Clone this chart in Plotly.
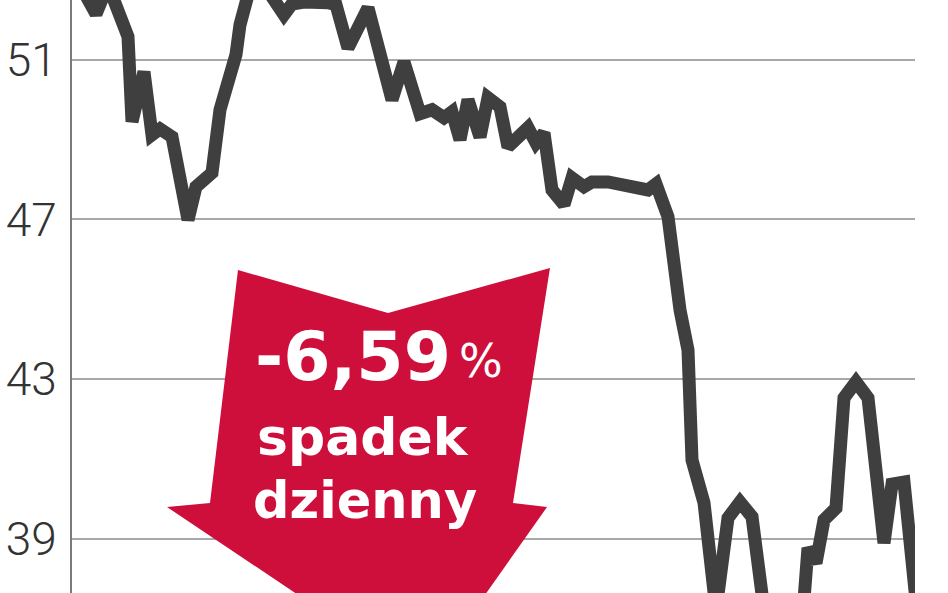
import plotly.graph_objects as go

# Session index (trading days) and closing price
sessions = [2, 6, 9, 12, 14, 15, 18, 20, 22, 25, 29, 31, 35, 37, 41, 42, 45, 48,
            53, 55, 58, 64, 66, 69, 74, 80, 83, 87, 90, 93, 95, 97, 99, 102, 104,
            107, 109, 114, 116, 118, 120, 123, 125, 128, 130, 134, 139, 144, 146,
            149, 152, 154, 155, 158, 161, 164, 167, 170, 173, 178, 183, 184, 186,
            188, 191, 193, 196, 199, 203, 205, 208, 211]
prices = [52.88, 52.15, 52.88, 52.08, 51.58, 49.45, 50.70, 49.12, 49.27, 49.07,
          46.99, 47.82, 48.17, 49.75, 51.13, 51.88, 53.0, 52.88,
          52.13, 52.40, 52.45, 52.43, 52.38, 51.30, 52.30, 50.00, 50.95, 49.65,
          49.75, 49.55, 49.70, 49.00, 50.00, 49.07, 50.05,
          49.82, 48.82, 49.30, 48.92, 49.17, 47.74, 47.37, 48.04, 47.82, 47.94,
          47.94, 47.84, 47.74, 47.89,
          47.07, 44.73, 43.73, 40.97, 39.90, 37.22, 39.52, 39.92, 39.55, 37.22,
          36.71, 37.47, 38.77, 38.39,
          39.47, 39.77, 42.53, 42.93, 42.53, 38.89, 40.37, 40.42, 37.45]

tick_values = [39, 43, 47, 51]
tick_labels = ["39", "43", "47", "51"]

change_label = "-6,59"
pct_sign = "%"
caption_1 = "spadek"
caption_2 = "dzienny"

W, H = 948, 593
L, R, T, B = 72, 33, 0, 0
PW, PH = W - L - R, H - T - B


def px(x):
    return (x - L) / PW


def py(y):
    return 1 - (y - T) / PH


fig = go.Figure()
fig.add_trace(go.Scatter(
    x=sessions, y=prices, mode="lines",
    line=dict(color="#3f3f3f", width=13),
    hoverinfo="skip", showlegend=False,
))

# red arrow (decoration, paper coordinates)
arrow_pts = [(238, 270), (388, 313), (550, 268), (513, 503), (547, 507),
             (425, 680), (167, 507), (210, 503)]
path = "M " + " L ".join(f"{px(a):.4f},{py(b):.4f}" for a, b in arrow_pts) + " Z"
fig.add_shape(type="path", path=path, xref="paper", yref="paper",
              fillcolor="#cf0f3b", line=dict(width=0), layer="above")

fig.add_annotation(x=px(353), y=py(356), xref="paper", yref="paper",
                   text="<b>" + change_label + "</b>", showarrow=False,
                   font=dict(family="DejaVu Sans", size=68, color="white"),
                   xanchor="center", yanchor="middle")
fig.add_annotation(x=px(481), y=py(361), xref="paper", yref="paper",
                   text=pct_sign, showarrow=False,
                   font=dict(family="DejaVu Sans", size=46, color="white"),
                   xanchor="center", yanchor="middle")
fig.add_annotation(x=px(363), y=py(437), xref="paper", yref="paper",
                   text="<b>" + caption_1 + "</b>", showarrow=False,
                   font=dict(family="DejaVu Sans", size=52, color="white"),
                   xanchor="center", yanchor="middle")
fig.add_annotation(x=px(365), y=py(500), xref="paper", yref="paper",
                   text="<b>" + caption_2 + "</b>", showarrow=False,
                   font=dict(family="DejaVu Sans", size=51, color="white"),
                   xanchor="center", yanchor="middle")

fig.update_layout(
    width=W, height=H,
    margin=dict(l=L, r=R, t=T, b=B, pad=0),
    paper_bgcolor="white", plot_bgcolor="white",
    xaxis=dict(range=[0, 210.75], visible=False, fixedrange=True),
    yaxis=dict(
        range=[37.64, 52.5],
        tickvals=tick_values, ticktext=tick_labels,
        showgrid=True, gridcolor="#a8a8a8", gridwidth=2,
        showline=True, linecolor="#7a7a7a", linewidth=2,
        zeroline=False, ticks="",
        ticklabelstandoff=4,
        automargin=False, fixedrange=True,
        tickfont=dict(family="Roboto", size=46, color="#333333", weight=300),
    ),
)

fig.write_html("out.html",
               config={"displayModeBar": False, "staticPlot": True},
               post_script="document.body.style.margin='0';document.body.style.overflow='hidden';")
